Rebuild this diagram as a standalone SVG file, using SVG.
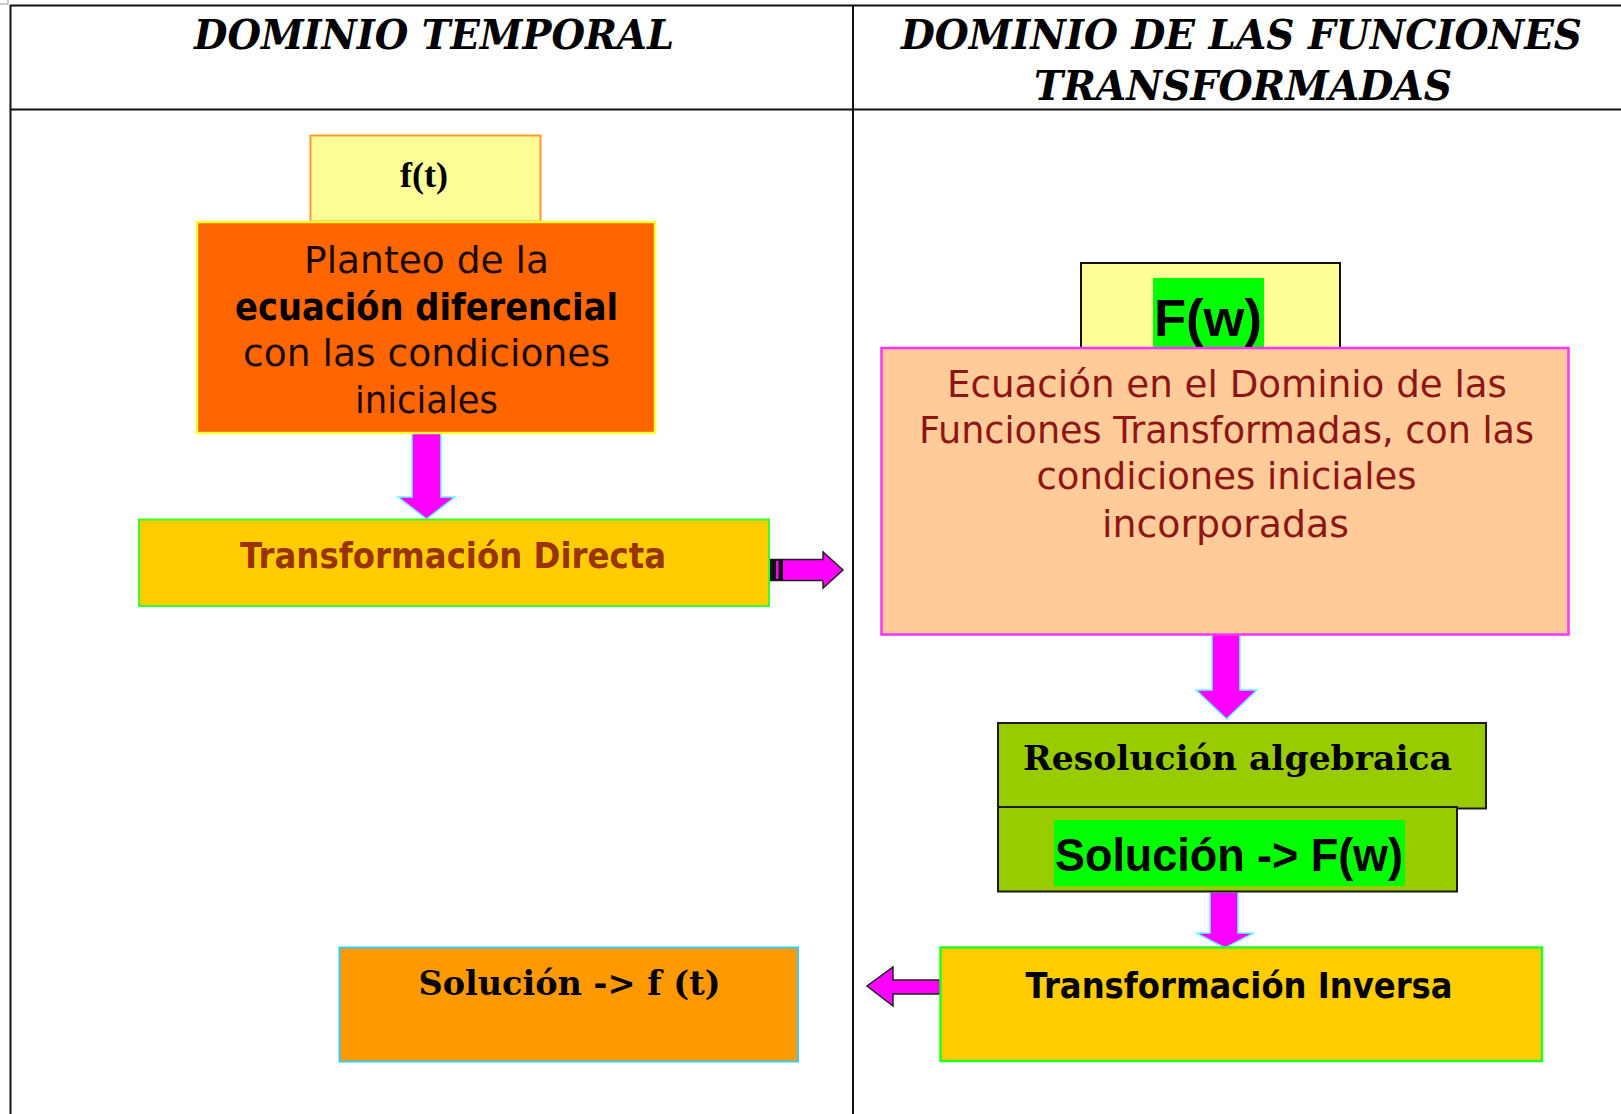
<svg xmlns="http://www.w3.org/2000/svg" width="1621" height="1114" viewBox="0 0 1621 1114">
<style>
.hdr{font-family:"DejaVu Serif","Liberation Serif",serif;font-weight:bold;font-style:italic;font-size:41px;fill:#000;text-anchor:middle}
.gothic{font-family:"DejaVu Sans","Liberation Sans",sans-serif;font-size:38px;text-anchor:middle}
.gothicb{font-family:"DejaVu Sans","Liberation Sans",sans-serif;font-size:35px;font-weight:bold;text-anchor:middle}
.bookman{font-family:"DejaVu Serif","Liberation Serif",serif;font-weight:bold;font-size:33px;fill:#000;text-anchor:middle}
.calibri{font-family:"Liberation Sans","Open Sans",sans-serif;font-weight:bold;fill:#000;text-anchor:middle}
.grid{stroke:#111;stroke-width:2;fill:none}
.down{fill:#FF00FF;stroke:#66FFFF;stroke-width:1.5;stroke-linejoin:miter}
.side{fill:#FF00FF;stroke:#222;stroke-width:1.5;stroke-linejoin:miter}
</style>
<rect width="1621" height="1114" fill="#fff"/>
<g id="table">
<path d="M0 4 H8 V0" stroke="#bbb" stroke-width="1.5" fill="none"/>
<line class="grid" x1="10" y1="5.5" x2="1621" y2="5.5"/>
<line class="grid" x1="10" y1="109.5" x2="1621" y2="109.5"/>
<line class="grid" x1="10.5" y1="5" x2="10.5" y2="1114"/>
<line class="grid" x1="853" y1="5" x2="853" y2="1114"/>
<text class="hdr" x="434" y="49" textLength="480" lengthAdjust="spacingAndGlyphs">DOMINIO TEMPORAL</text>
<text class="hdr" x="1241.5" y="49" textLength="681" lengthAdjust="spacingAndGlyphs">DOMINIO DE LAS FUNCIONES</text>
<text class="hdr" x="1243" y="100" textLength="418" lengthAdjust="spacingAndGlyphs">TRANSFORMADAS</text>
</g>
<g id="connectors">
<path class="down" d="M412 433 H441 V497 H455 L426.5 519 L398 497 H412 Z"/>
<path class="down" d="M1212 634 H1240 V690 H1257 L1226.5 719 L1196 690 H1212 Z"/>
<path class="down" d="M1210 892 H1238 V933 H1254 L1225 948 L1196 933 H1210 Z"/>
<g id="arrow-right">
<path class="side" d="M769 559.5 H823 V552 L843 570 L823 588 V580.5 H769 Z"/>
<rect x="769" y="559.5" width="14" height="21" fill="#111"/>
<rect x="776" y="561" width="2.5" height="18" fill="#FF00FF"/>
</g>
<path class="side" d="M940 980 H893 V967 L867 986 L893 1006 V994 H940 Z"/>
</g>
<g id="node-ft">
<rect x="310.5" y="135.5" width="230" height="86" fill="#FFFF99" stroke="#FF9933" stroke-width="2"/>
<text x="424" y="187" font-family="'Liberation Serif',serif" font-weight="bold" font-size="36" text-anchor="middle" fill="#000">f(t)</text>
</g>
<g id="node-planteo">
<rect x="197" y="222" width="458" height="211" fill="#FF6600" stroke="#FFFF33" stroke-width="2.5"/>
<text class="gothic" x="426.5" y="273" fill="#1a0a00" textLength="245" lengthAdjust="spacingAndGlyphs">Planteo de la</text>
<text class="gothic" x="426.5" y="320" fill="#000" font-weight="bold" font-size="37" textLength="383" lengthAdjust="spacingAndGlyphs">ecuación diferencial</text>
<text class="gothic" x="426.5" y="366" fill="#1a0a00" textLength="367" lengthAdjust="spacingAndGlyphs">con las condiciones</text>
<text class="gothic" x="426.5" y="413" fill="#1a0a00" textLength="143" lengthAdjust="spacingAndGlyphs">iniciales</text>
</g>
<g id="node-directa">
<rect x="139" y="519.5" width="630" height="86.5" fill="#FFCC00" stroke="#33FF33" stroke-width="2"/>
<text class="gothicb" x="453" y="568" fill="#993300" textLength="426" lengthAdjust="spacingAndGlyphs">Transformación Directa</text>
</g>
<g id="node-Fw">
<rect x="1081" y="263" width="259" height="85" fill="#FFFF99" stroke="#111" stroke-width="2"/>
<rect x="1153" y="278" width="111" height="70" fill="#00FF00"/>
<text class="calibri" x="1208" y="336" font-size="52" textLength="108" lengthAdjust="spacingAndGlyphs">F(w)</text>
</g>
<g id="node-ecuacion">
<rect x="881.5" y="348" width="687" height="286.5" fill="#FFCC99" stroke="#FF33FF" stroke-width="2.5"/>
<text class="gothic" x="1227" y="397" fill="#8F1515" textLength="560" lengthAdjust="spacingAndGlyphs">Ecuación en el Dominio de las</text>
<text class="gothic" x="1226.5" y="443" fill="#8F1515" textLength="615" lengthAdjust="spacingAndGlyphs">Funciones Transformadas, con las</text>
<text class="gothic" x="1226.5" y="489" fill="#8F1515" textLength="380" lengthAdjust="spacingAndGlyphs">condiciones iniciales</text>
<text class="gothic" x="1225.5" y="537" fill="#8F1515" textLength="247" lengthAdjust="spacingAndGlyphs">incorporadas</text>
</g>
<g id="node-resolucion">
<rect x="998" y="723" width="488" height="85.5" fill="#99CC00" stroke="#1a1a1a" stroke-width="2"/>
<text class="bookman" x="1237.5" y="770" textLength="429" lengthAdjust="spacingAndGlyphs">Resolución algebraica</text>
</g>
<g id="node-solFw">
<rect x="998" y="807" width="459" height="84.5" fill="#99CC00" stroke="#1a1a1a" stroke-width="2"/>
<rect x="1054" y="820" width="351" height="66" fill="#00FF00"/>
<text class="calibri" x="1229" y="871" font-size="46" textLength="348" lengthAdjust="spacingAndGlyphs">Solución -&gt; F(w)</text>
</g>
<g id="node-inversa">
<rect x="940.5" y="947.5" width="601.5" height="113.5" fill="#FFCC00" stroke="#22FF22" stroke-width="2.5"/>
<text class="gothicb" x="1239" y="998" fill="#000" textLength="427" lengthAdjust="spacingAndGlyphs">Transformación Inversa</text>
</g>
<g id="node-solft">
<rect x="339.5" y="947.5" width="458.5" height="114" fill="#FF9900" stroke="#33CCFF" stroke-width="2"/>
<text class="bookman" x="569.5" y="995" textLength="302" lengthAdjust="spacingAndGlyphs">Solución -&gt; f (t)</text>
</g>
</svg>
